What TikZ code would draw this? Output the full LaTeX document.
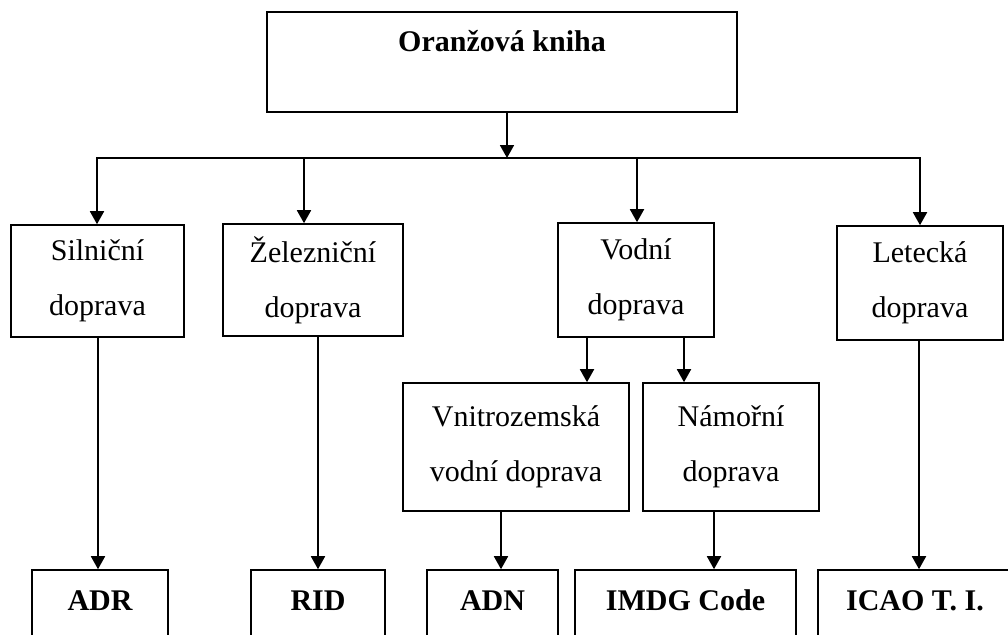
\documentclass[tikz,border=0pt]{standalone}
\usepackage{fontspec}
\setmainfont{Liberation Serif}
\usetikzlibrary{arrows.meta, positioning}

\tikzset{
  blok/.style={draw, line width=1.6pt, inner sep=0pt, align=center,
    font=\fontsize{30}{55}\selectfont},
  hlava/.style={blok, font=\bfseries\fontsize{30}{36}\selectfont,
    text height=40pt, text depth=60pt},
  cara/.style={line width=1.8pt, line cap=rect},
  sipka/.style={line width=1.8pt, -{Triangle[width=14pt,length=13pt]}},
}

\begin{document}
\begin{tikzpicture}[x=1pt, y=-1pt]
  \clip (0,0) rectangle (1008,634);

  % --- Top ---
  \node[hlava, minimum width=470pt] (kniha) at (502,62) {Oranžová kniha};
  \coordinate (rozb) at (507,158);
  \coordinate (b1) at (97,158);
  \coordinate (b2) at (304,158);
  \coordinate (b3) at (637,158);
  \coordinate (b4) at (920,158);
  \draw[sipka] (kniha.south -| rozb) -- (rozb);
  \draw[cara] (b1) -- (b4);

  % --- Modes of transport ---
  \node[blok, minimum width=173pt, minimum height=112pt] (silnicni) at (97.5,281) {Silniční\\doprava};
  \node[blok, minimum width=180pt, minimum height=112pt] (zeleznicni) at (313,280) {Železniční\\doprava};
  \node[blok, minimum width=156pt, minimum height=114pt] (vodni) at (636,280) {Vodní\\doprava};
  \node[blok, minimum width=166pt, minimum height=114pt] (letecka) at (920,283) {Letecká\\doprava};
  \foreach \b/\n in {b1/silnicni, b2/zeleznicni, b3/vodni, b4/letecka}
    \draw[sipka] (\b) -- (\b |- \n.north);

  % --- Water transport split ---
  \node[blok, minimum width=226pt, minimum height=128pt] (vnitro) at (516,447) {Vnitrozemská\\vodní doprava};
  \node[blok, minimum width=176pt, minimum height=128pt] (namorni) at (731,447) {Námořní\\doprava};
  \draw[sipka] ([xshift=-49pt]vodni.south) -- ([xshift=-49pt]vodni.south |- vnitro.north);
  \draw[sipka] ([xshift=48pt]vodni.south) -- ([xshift=48pt]vodni.south |- namorni.north);

  % --- Regulations ---
  \node[hlava, minimum width=136pt] (adr) at (100,620) {ADR};
  \node[hlava, minimum width=134pt] (rid) at (318,620) {RID};
  \node[hlava, minimum width=131pt] (adn) at (492.5,620) {ADN};
  \node[hlava, minimum width=221pt] (imdg) at (685.5,620) {IMDG Code};
  \node[hlava, minimum width=194pt] (icao) at (915,620) {ICAO T. I.};
  \draw[sipka] ([xshift=0.5pt]silnicni.south) -- ([xshift=0.5pt]silnicni.south |- adr.north);
  \draw[sipka] (zeleznicni.south -| rid.north) -- (rid.north);
  \draw[sipka] ([xshift=-15pt]vnitro.south) -- ([xshift=-15pt]vnitro.south |- adn.north);
  \draw[sipka] ([xshift=-17pt]namorni.south) -- ([xshift=-17pt]namorni.south |- imdg.north);
  \draw[sipka] ([xshift=-1pt]letecka.south) -- ([xshift=-1pt]letecka.south |- icao.north);
\end{tikzpicture}
\end{document}
